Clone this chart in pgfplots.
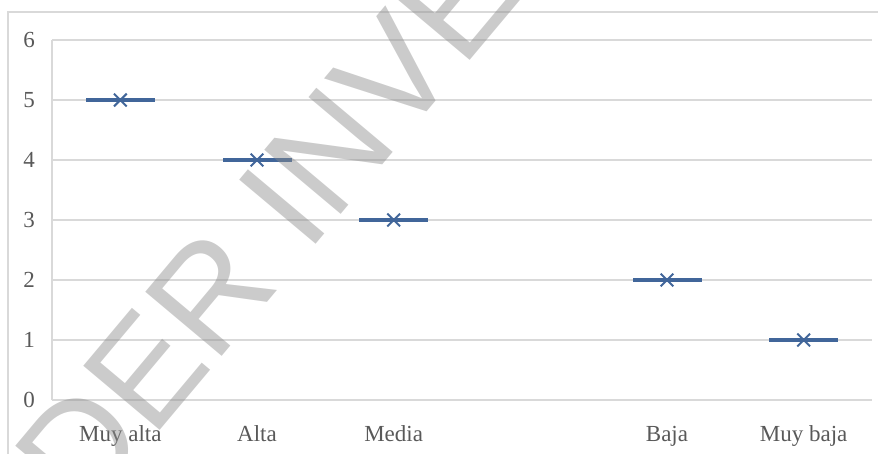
\documentclass[border=0pt]{standalone}
\usepackage{pgfplots}
\pgfplotsset{compat=1.18}
\usepackage{fontspec}
\setmainfont{Liberation Serif}
\newfontfamily\marcafont{Liberation Sans}
\definecolor{serie}{RGB}{65,102,154}
\definecolor{rejilla}{RGB}{217,217,217}
\definecolor{texto}{RGB}{89,89,89}
\definecolor{marca}{RGB}{140,140,140}

\begin{document}
\begin{tikzpicture}
  \begin{axis}[
      at={(52pt,-40pt)}, anchor=north west,
      scale only axis,
      width=820pt, height=360pt,
      xmin=-0.5, xmax=5.5,
      ymin=0, ymax=6,
      xtick={0,1,2,3,4,5},
      xticklabels={Muy alta, Alta, Media, , Baja, Muy baja},
      ytick={0,1,2,3,4,5,6},
      major tick length=0pt,
      ymajorgrids,
      grid style={rejilla, line width=1.2pt},
      axis x line*=bottom,
      axis y line*=left,
      axis line style={rejilla, line width=1.2pt, -},
      tick label style={text=texto, font=\fontsize{23}{25}\selectfont},
      /pgf/number format/assume math mode=true,
      yticklabel style={anchor=east, inner sep=0pt, xshift=-17pt},
      xticklabel style={anchor=base, inner sep=0pt, yshift=-41pt},
      clip=false,
    ]
    % valores por categoria (la cuarta categoria queda vacia)
    \addplot[only marks, mark=-, mark size=34.5pt, mark options={serie, line width=3.2pt}]
      coordinates {(0,5) (1,4) (2,3) (4,2) (5,1)};
    \addplot[only marks, mark=x, mark size=9pt, mark options={serie, line width=2pt}]
      coordinates {(0,5) (1,4) (2,3) (4,2) (5,1)};
  \end{axis}
  \begin{scope}[x=1pt,y=1pt]
    \clip (0,0) rectangle (878,-453);
    \draw[rejilla, line width=1.2pt] (8,-12) rectangle (890,-470);
    % marca de agua
    \node[rotate=50, text=marca, text opacity=0.45, inner sep=0pt, anchor=base west,
          font=\marcafont\fontsize{145}{145}\selectfont]
      at (-50,-680) {UNDER INVESTIGATION};
  \end{scope}
  \pgfresetboundingbox
  \useasboundingbox (0,0) rectangle (878pt,-453pt);
\end{tikzpicture}
\end{document}
